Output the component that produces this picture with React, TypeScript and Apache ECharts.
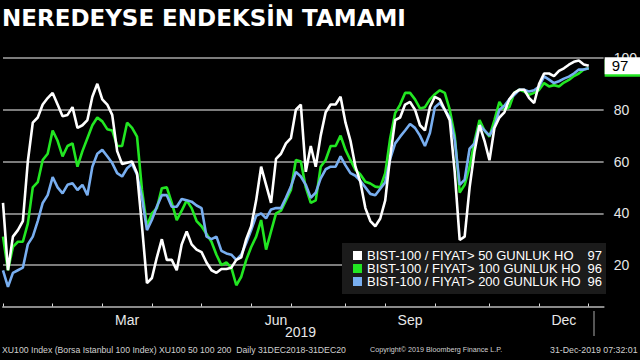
import React, { useEffect, useRef } from 'react';
import * as echarts from 'echarts';

const titleText = 'NEREDEYSE ENDEKSİN TAMAMI';
const seriesNames = [
  'BIST-100 / FIYAT> 50 GUNLUK HO',
  'BIST-100 / FIYAT> 100 GUNLUK HO',
  'BIST-100 / FIYAT> 200 GUNLUK HO',
];
const lastValues = ['97', '96', '96'];
const seriesColors = ['#ffffff', '#22e622', '#78aef0'];

// % of BIST-100 stocks above 50 / 100 / 200 day moving average (sampled)
const above50 = [
  44, 18, 31, 33.5, 37, 60, 75, 77, 82, 84.5,
  86.5, 82, 77.5, 78, 81, 73, 74, 76, 85, 90,
  84, 82, 78, 64, 59, 59.5, 60, 55.5, 35, 13,
  15, 23, 30, 22, 22, 18, 28, 33, 28, 26,
  25, 21, 18, 17, 18.5, 18.5, 19, 22, 23, 30,
  35, 45, 58, 51, 44, 61, 63, 67, 69, 80,
  82, 56, 66, 58, 70, 79, 82, 82, 85, 75,
  68, 58, 52, 42, 37, 35, 38, 45, 62, 76,
  77, 82, 83, 80, 74, 72, 81, 85, 84, 80,
  76, 56, 29.7, 31, 50, 64, 74, 68, 60.5, 73,
  77, 79, 84, 86.5, 87.7, 87.7, 84.5, 82.6, 90, 94,
  94, 93, 95, 96, 97.4, 98.5, 99, 97.5, 97,
];
const above100 = [
  31, 18, 27, 29, 29, 36, 50, 52, 60.6, 63,
  72, 68, 62, 66, 67, 58, 64, 69, 74, 77,
  75.5, 72.5, 72, 66, 66, 75, 73, 69.6, 49, 35,
  40, 42, 49.7, 50, 44, 37.4, 41, 45, 42, 37,
  35, 32, 29, 24, 20, 21, 19, 12.2, 15.5, 22,
  27, 31, 37.4, 26, 33, 40, 41, 45, 49, 60.6,
  60, 50, 44, 45, 58, 60.6, 66, 66, 70, 64.5,
  60.5, 56.8, 55, 52.2, 51.5, 50.3, 50, 55.5, 69, 78.7,
  82, 86.5, 86.5, 84, 80.5, 81, 84, 86, 87.5, 86.5,
  80, 70, 48, 51, 58, 68, 76, 72, 69.6, 76,
  83, 80, 81, 86.5, 87.7, 87, 85.8, 86.5, 87.7, 90.3,
  89, 89.5, 89, 90.5, 91.5, 93, 94, 95.5, 96,
];
const above200 = [
  18, 11.6, 17, 18, 19, 28, 31, 37, 44, 47,
  54, 50, 47.7, 51, 51.6, 49, 51, 47, 58, 63,
  64.5, 62, 59.4, 55.5, 54.2, 57.4, 59, 55, 46, 33.5,
  37.5, 42.6, 47, 47, 42.5, 42.5, 45.5, 45, 44.5, 43,
  42, 31, 30, 31, 25.5, 24.5, 24, 22, 24, 28.5,
  33.5, 39, 40, 38, 41.5, 42, 42, 46, 50.3, 56,
  54.2, 51, 46, 48, 53.5, 57, 58, 58, 62, 58.5,
  55.5, 54.5, 52.5, 50, 47.5, 47, 49.5, 52, 61, 67,
  69.6, 72, 74.5, 73, 70, 66, 71, 81, 82.6, 80,
  77, 68.4, 51, 53, 65, 67, 74, 72, 70, 73.5,
  80, 81.5, 84, 85.8, 87.7, 87.7, 87, 87.5, 89, 92.9,
  91.6, 90.3, 91, 92, 92.8, 94, 95.5, 95.5, 96,
];

// x axis: sample positions, month starts and quarter labels
const trailingEmptySlots = 3;
const monthStartIdx = [0, 10, 20, 30, 40, 50, 58, 69, 77, 87, 98, 108, 118];
const quarterLabels = ['Mar', 'Jun', 'Sep', 'Dec'];
const quarterLabelIdx = [25, 55, 82, 113];
const yearLabel = '2019';

const footerLeft = 'XU100 Index (Borsa Istanbul 100 Index) XU100 50 100 200  Daily 31DEC2018-31DEC20';
const footerMid = 'Copyright© 2019 Bloomberg Finance L.P.';
const footerRight = '31-Dec-2019 07:32:01';

export default function App() {
  const ref = useRef<HTMLDivElement>(null);
  useEffect(() => {
    document.body.style.margin = '0';
    document.body.style.background = '#000';
    if (!ref.current) return;
    const chart = echarts.init(ref.current, undefined, { renderer: 'svg' });
    const n = above50.length + trailingEmptySlots;
    const categories = Array.from({ length: n }, (_, i) => String(i));
    const labelMap: Record<number, string> = {};
    quarterLabelIdx.forEach((idx, k) => (labelMap[idx] = quarterLabels[k]));
    const valueMap: Record<string, string> = {};
    seriesNames.forEach((s, k) => (valueMap[s] = lastValues[k]));
    const font = 'Liberation Sans';

    const mk = (name: string, data: number[], color: string, tagVal: string | null, tagBg: string) => ({
      name,
      type: 'line',
      data,
      showSymbol: false,
      symbol: 'none',
      lineStyle: { color, width: 2.6 },
      itemStyle: { color },
      markLine: tagVal
        ? {
            silent: true,
            symbol: 'none',
            lineStyle: { color: 'rgba(0,0,0,0)', width: 0 },
            data: [{ yAxis: Number(tagVal) }],
            label: {
              show: true,
              position: 'end',
              distance: 1,
              formatter: tagVal,
              backgroundColor: tagBg,
              color: '#000',
              opacity: 1,
              fontSize: 15,
              fontFamily: font,
              padding: [1, 14, 1, 7],
            },
          }
        : undefined,
    });

    chart.setOption({
      animation: false,
      backgroundColor: '#000',
      title: {
        text: titleText,
        left: 2,
        top: 6,
        padding: 0,
        textStyle: { color: '#fff', fontSize: 23, fontWeight: 'bold', fontFamily: 'DejaVu Sans' },
      },
      grid: { left: 0, right: 35, top: 45, height: 261.5 },
      xAxis: {
        type: 'category',
        data: categories,
        boundaryGap: false,
        axisLine: { show: true, lineStyle: { color: '#8a8a8a', width: 2 } },
        axisTick: {
          show: true,
          inside: true,
          length: 3,
          interval: (index: number) => monthStartIdx.includes(index),
          lineStyle: { color: '#dddddd', width: 1 },
        },
        axisLabel: {
          interval: 0,
          formatter: (_v: string, index: number) => labelMap[index] || '',
          color: '#e8e8e8',
          fontSize: 14,
          fontFamily: font,
          margin: 6,
        },
        splitLine: { show: false },
      },
      yAxis: {
        type: 'value',
        position: 'right',
        min: 4,
        max: 105,
        splitNumber: 5,
        axisLine: { show: false },
        axisTick: { show: false },
        axisLabel: {
          formatter: (v: number) => (v % 20 === 0 ? String(v) : ''),
          color: '#e6e6e6',
          fontSize: 14,
          fontFamily: font,
          margin: 10,
        },
        splitLine: {
          show: true,
          showMinLine: false,
          showMaxLine: false,
          lineStyle: { color: '#7c7c7c', width: 2 },
        },
      },
      legend: {
        data: seriesNames,
        orient: 'vertical',
        left: 342,
        top: 243,
        icon: 'rect',
        itemWidth: 9,
        itemHeight: 9,
        itemGap: 0,
        selectedMode: false,
        backgroundColor: '#1b1b1b',
        padding: [6, 4, 6, 11],
        formatter: (name: string) => `{n|${name}}{v|${valueMap[name]}}`,
        textStyle: {
          color: '#fff',
          fontSize: 13,
          fontFamily: font,
          rich: {
            n: { width: 219, color: '#fff', fontSize: 13, fontFamily: font, lineHeight: 16.5 },
            v: { width: 16, align: 'right', color: '#fff', fontSize: 13, fontFamily: font, lineHeight: 16.5 },
          },
        },
      },
      series: [
        mk(seriesNames[1], above100, seriesColors[1], lastValues[1], seriesColors[1]),
        mk(seriesNames[2], above200, seriesColors[2], null, seriesColors[2]),
        mk(seriesNames[0], above50, seriesColors[0], lastValues[0], '#ffffff'),
      ],
      graphic: [
        {
          type: 'text',
          left: 285,
          top: 325,
          style: { text: yearLabel, fill: '#e8e8e8', fontSize: 14, fontFamily: font },
        },
        {
          type: 'line',
          shape: { x1: 594, y1: 311, x2: 594, y2: 336 },
          style: { stroke: '#aaaaaa', lineWidth: 1 },
        },
        {
          type: 'text',
          left: 2,
          top: 345,
          style: { text: footerLeft, fill: '#d0d0d0', fontSize: 8.7, fontFamily: font },
        },
        {
          type: 'text',
          left: 370,
          top: 346,
          style: { text: footerMid, fill: '#d0d0d0', fontSize: 7.2, fontFamily: font },
        },
        {
          type: 'text',
          left: 550,
          top: 345,
          style: { text: footerRight, fill: '#d0d0d0', fontSize: 8.8, fontFamily: font },
        },
      ],
    });
    return () => chart.dispose();
  }, []);
  return <div ref={ref} style={{ width: 640, height: 360, background: '#000' }} />;
}
